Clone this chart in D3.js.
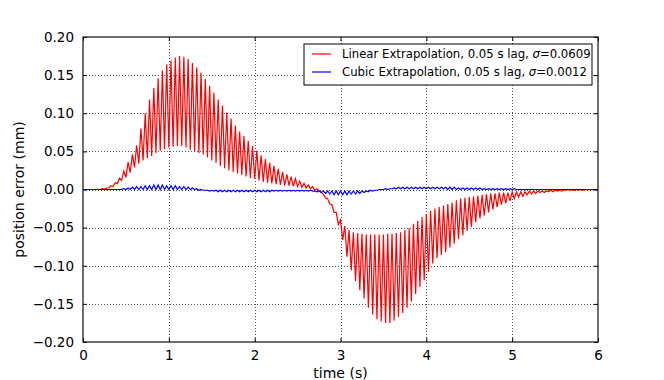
<!DOCTYPE html>
<html>
<head>
<meta charset="utf-8">
<script src="https://cdn.jsdelivr.net/npm/d3@7"></script>
<style>
  body { margin: 0; background: #fff; }
  svg { font-family: "DejaVu Sans", sans-serif; }
</style>
</head>
<body>
<div id="svg"></div>
<script>
// one value per 0.05 s cycle, t = 0.00 .. 6.00 (121 values)
const step = 0.05

const redOuter = [
  0, 0, 0, 0, 0.001, 0.002, 0.005, 0.009, 0.015, 0.024,
  0.036, 0.046, 0.058, 0.080, 0.100, 0.118, 0.133, 0.146, 0.156, 0.164,
  0.169, 0.173, 0.175, 0.174, 0.171, 0.166, 0.160, 0.153, 0.145, 0.136,
  0.127, 0.118, 0.110, 0.101, 0.093, 0.084, 0.076, 0.070, 0.064, 0.057,
  0.051, 0.045, 0.040, 0.035, 0.031, 0.027, 0.023, 0.020, 0.017, 0.014,
  0.011, 0.008, 0.006, 0.004, 0.001, -0.004, -0.011, -0.019, -0.030, -0.046,
  -0.066, -0.088, -0.106, -0.120, -0.132, -0.143, -0.155, -0.164, -0.170, -0.173,
  -0.175, -0.175, -0.172, -0.167, -0.162, -0.155, -0.147, -0.137, -0.128, -0.119,
  -0.108, -0.097, -0.090, -0.086, -0.082, -0.076, -0.071, -0.065, -0.060, -0.054,
  -0.049, -0.043, -0.038, -0.034, -0.030, -0.026, -0.023, -0.020, -0.018, -0.015,
  -0.012, -0.010, -0.009, -0.007, -0.006, -0.005, -0.004, -0.004, -0.003, -0.003,
  -0.002, -0.002, -0.001, -0.001, -0.001, -0.001, -0.001, 0, 0, 0,
  0
]

const redInner = [
  0, 0, 0, 0, 0, 0, 0.002, 0.004, 0.008, 0.012,
  0.016, 0.022, 0.029, 0.034, 0.038, 0.041, 0.044, 0.048, 0.051, 0.053,
  0.055, 0.056, 0.057, 0.057, 0.055, 0.052, 0.050, 0.048, 0.046, 0.042,
  0.038, 0.035, 0.031, 0.028, 0.025, 0.023, 0.021, 0.019, 0.017, 0.015,
  0.014, 0.012, 0.010, 0.009, 0.008, 0.007, 0.006, 0.005, 0.005, 0.004,
  0.004, 0.003, 0.002, 0.001, -0.001, -0.002, -0.006, -0.012, -0.020, -0.030,
  -0.040, -0.048, -0.053, -0.056, -0.057, -0.058, -0.059, -0.059, -0.059, -0.059,
  -0.059, -0.058, -0.058, -0.057, -0.056, -0.053, -0.051, -0.045, -0.041, -0.036,
  -0.032, -0.028, -0.025, -0.023, -0.021, -0.019, -0.017, -0.014, -0.012, -0.011,
  -0.010, -0.009, -0.008, -0.007, -0.006, -0.005, -0.005, -0.004, -0.004, -0.004,
  -0.003, -0.003, -0.003, -0.003, -0.002, -0.002, -0.002, -0.002, -0.002, -0.001,
  -0.001, -0.001, -0.001, 0, 0, 0, 0, 0, 0, 0,
  0
]

const blueOuter = [
  0, 0, 0, 0, 0, 0, 0, 0, 0, 0.001,
  0.002, 0.003, 0.004, 0.004, 0.005, 0.005, 0.006, 0.006, 0.006, 0.005,
  0.005, 0.005, 0.004, 0.004, 0.003, 0.002, 0.001, 0, -0.001, -0.002,
  -0.002, -0.003, -0.003, -0.003, -0.003, -0.003, -0.003, -0.003, -0.003, -0.003,
  -0.003, -0.003, -0.003, -0.003, -0.002, -0.002, -0.002, -0.002, -0.002, -0.002,
  -0.002, -0.002, -0.002, -0.002, -0.003, -0.004, -0.005, -0.006, -0.007, -0.007,
  -0.007, -0.007, -0.006, -0.006, -0.005, -0.004, -0.003, -0.002, -0.001, 0,
  0.001, 0.001, 0.002, 0.003, 0.003, 0.003, 0.003, 0.003, 0.003, 0.003,
  0.003, 0.003, 0.003, 0.003, 0.003, 0.003, 0.003, 0.002, 0.002, 0.002,
  0.002, 0.002, 0.002, 0.001, 0.001, 0.001, 0.001, 0.001, 0.001, 0.001,
  0.001, 0, 0, 0, 0, 0, 0, 0, 0, 0,
  0, 0, 0, 0, 0, 0, 0, 0, 0, 0,
  0
]

const blueInner = [
  0, 0, 0, 0, 0, 0, 0, 0, 0, 0,
  0, 0, 0, 0, 0, 0, 0, 0, 0, 0,
  0, 0, 0, 0, 0, 0, 0, -0.001, -0.001, -0.001,
  -0.001, -0.001, -0.001, -0.001, -0.001, -0.001, -0.001, -0.001, -0.001, -0.001,
  -0.001, -0.001, -0.001, -0.001, -0.001, -0.001, -0.001, -0.001, -0.001, -0.001,
  -0.001, -0.001, -0.001, -0.001, -0.002, -0.002, -0.002, -0.002, -0.002, -0.002,
  -0.002, -0.002, -0.002, -0.002, -0.002, -0.002, -0.002, -0.001, -0.001, 0,
  0, 0, 0.001, 0.001, 0.001, 0.001, 0.001, 0.001, 0.001, 0.001,
  0.001, 0.001, 0.001, 0.001, 0.001, 0, 0, 0, 0, 0,
  0, 0, 0, 0, 0, 0, 0, 0, 0, 0,
  0, 0, 0, 0, 0, 0, 0, 0, 0, 0,
  0, 0, 0, 0, 0, 0, 0, 0, 0, 0,
  0
]

const xTicks = [0, 1, 2, 3, 4, 5, 6]
const yTicks = [-0.20, -0.15, -0.10, -0.05, 0.00, 0.05, 0.10, 0.15, 0.20]

const series = [
  {label: 'Linear Extrapolation, 0.05 s lag, ', sigma: '0.0609', color: '#ff0000', inner: redInner, outer: redOuter},
  {label: 'Cubic Extrapolation, 0.05 s lag, ', sigma: '0.0012', color: '#0000ff', inner: blueInner, outer: blueOuter}
]

const width = 664, height = 380
const margin = {top: 37, right: 66, bottom: 38, left: 83}
const w = width - margin.left - margin.right
const h = height - margin.top - margin.bottom

const xscale = d3.scaleLinear().domain([0, 6]).range([0, w])
const yscale = d3.scaleLinear().domain([-0.2, 0.2]).range([h, 0])

const svg = d3.select('#svg')
  .append('svg')
    .attr('width', width)
    .attr('height', height)
  .append('g')
    .attr('transform', `translate(${margin.left},${margin.top})`)

// grid
svg.append('g')
  .selectAll('line')
  .data(xTicks.slice(1, -1))
  .enter().append('line')
    .attr('x1', d => Math.round(xscale(d)) + 0.5)
    .attr('x2', d => Math.round(xscale(d)) + 0.5)
    .attr('y1', 0).attr('y2', h)
    .attr('stroke', '#555').attr('stroke-dasharray', '1,2')

svg.append('g')
  .selectAll('line')
  .data(yTicks.slice(1, -1))
  .enter().append('line')
    .attr('y1', d => Math.round(yscale(d)) + 0.5)
    .attr('y2', d => Math.round(yscale(d)) + 0.5)
    .attr('x1', 0).attr('x2', w)
    .attr('stroke', '#555').attr('stroke-dasharray', '1,2')

// zig-zag lines: inner value at cycle start, outer value half a cycle later
const line = d3.line()
  .x(d => xscale(d[0]))
  .y(d => yscale(d[1]))

series.forEach(s => {
  const pts = []
  s.inner.forEach((v, i) => {
    pts.push([i * step, v])
    if (i < s.outer.length - 1) pts.push([i * step + step / 2, s.outer[i]])
  })
  svg.append('path')
    .datum(pts)
    .attr('d', line)
    .attr('fill', 'none')
    .attr('stroke', s.color)
    .attr('stroke-width', 1.2)
})

// axes, ticks pointing inward on all four sides
const fmt = d3.format('.2f')
const yLabel = d => (d < 0 ? '\u2212' : '') + fmt(Math.abs(d))

const bottomAxis = d3.axisBottom(xscale).tickValues(xTicks).tickSize(-4).tickPadding(8).tickFormat(d3.format('d'))
const topAxis = d3.axisTop(xscale).tickValues(xTicks).tickSize(-4).tickFormat('')
const leftAxis = d3.axisLeft(yscale).tickValues(yTicks).tickSize(-4).tickPadding(9).tickFormat(yLabel)
const rightAxis = d3.axisRight(yscale).tickValues(yTicks).tickSize(-4).tickFormat('')

const axes = [
  svg.append('g').attr('transform', `translate(0,${h})`).call(bottomAxis),
  svg.append('g').call(topAxis),
  svg.append('g').call(leftAxis),
  svg.append('g').attr('transform', `translate(${w},0)`).call(rightAxis)
]
axes.forEach(g => {
  g.select('.domain').remove()
  g.selectAll('line').attr('stroke', '#000')
  g.selectAll('text').attr('fill', '#000').style('font-size', '13.5px').style('font-family', '"DejaVu Sans", sans-serif')
})

svg.append('rect')
  .attr('x', 0).attr('y', 0).attr('width', w).attr('height', h)
  .attr('fill', 'none').attr('stroke', '#222').attr('stroke-width', 1.3)

// axis labels
svg.append('text')
  .attr('x', w / 2).attr('y', h + 36)
  .attr('text-anchor', 'middle')
  .style('font-size', '14px')
  .text('time (s)')

svg.append('text')
  .attr('transform', `translate(${-59},${h / 2}) rotate(-90)`)
  .attr('text-anchor', 'middle')
  .style('font-size', '14px')
  .text('position error (mm)')

// legend
const lx = 221, ly = 7, lw = 288, lh = 41
const legend = svg.append('g').attr('transform', `translate(${lx},${ly})`)
legend.append('rect')
  .attr('width', lw).attr('height', lh)
  .attr('fill', '#fff').attr('stroke', '#000').attr('stroke-width', 1)

series.forEach((s, i) => {
  const y = 10 + i * 18
  legend.append('line')
    .attr('x1', 8).attr('x2', 27).attr('y1', y).attr('y2', y)
    .attr('stroke', s.color).attr('stroke-width', 1.2)
  const t = legend.append('text')
    .attr('x', 38).attr('y', y + 4)
    .style('font-size', '11.7px')
  t.append('tspan').text(s.label)
  t.append('tspan').style('font-style', 'italic').text('\u03c3')
  t.append('tspan').text('=' + s.sigma)
})
</script>
</body>
</html>
